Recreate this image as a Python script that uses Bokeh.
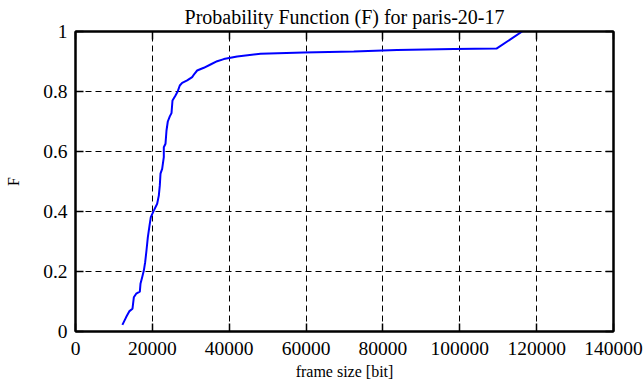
from bokeh.plotting import figure
from bokeh.models import LinearAxis, FixedTicker, NumeralTickFormatter, Range1d
from bokeh.embed import file_html
from bokeh.resources import INLINE

frame_size = [12200, 13190, 14050, 14830, 15180, 15790, 16740, 16910, 17350, 17780,
              18130, 18470, 18820, 19260, 19600, 20380, 21250, 21680, 21940, 22120,
              22550, 22980, 22980, 23420, 23680, 24020, 24540, 24980, 25240, 26020,
              26620, 27140, 27760, 29060, 30360, 30960, 31660, 33390, 35130, 36870,
              38590, 42070, 48140, 59400, 72420, 83700, 98440, 109550, 116230]
prob_F = [0.022, 0.048, 0.068, 0.076, 0.114, 0.126, 0.133, 0.159, 0.181, 0.203,
          0.231, 0.270, 0.314, 0.353, 0.381, 0.403, 0.426, 0.453, 0.487, 0.526,
          0.542, 0.581, 0.614, 0.626, 0.670, 0.700, 0.717, 0.728, 0.770, 0.787,
          0.801, 0.820, 0.829, 0.837, 0.848, 0.859, 0.870, 0.879, 0.890, 0.901,
          0.908, 0.917, 0.926, 0.930, 0.933, 0.938, 0.942, 0.943, 1.000]
x_ticks = [0, 20000, 40000, 60000, 80000, 100000, 120000, 140000]
y_ticks = [0, 0.2, 0.4, 0.6, 0.8, 1]
title_text = "Probability Function (F) for paris-20-17"
x_label = "frame size [bit]"
y_label = "F"

FONT = "Liberation Serif"

p = figure(width=644, height=387, output_backend="svg", toolbar_location=None,
           x_range=Range1d(0, 140000), y_range=Range1d(0, 1),
           min_border_left=75, min_border_right=31, min_border_top=31, min_border_bottom=56,
           title=title_text)
p.background_fill_color = "white"
p.border_fill_color = "white"
p.outline_line_color = "black"
p.outline_line_width = 2
p.outline_line_alpha = 1

p.title.text_font = FONT
p.title.text_font_size = "20px"
p.title.text_font_style = "normal"
p.title.text_color = "black"
p.title.align = "center"
p.title.offset = -3
p.title.standoff = 7

p.line(frame_size, prob_F, line_color="#0000ff", line_width=2)

for ax in p.xaxis:
    ax.ticker = FixedTicker(ticks=x_ticks)
    ax.formatter = NumeralTickFormatter(format="0")
    ax.axis_label = x_label
    ax.axis_label_standoff = 5
    ax.major_label_standoff = 10
for ax in p.yaxis:
    ax.ticker = FixedTicker(ticks=y_ticks)
    ax.formatter = NumeralTickFormatter(format="0.[0]")
    ax.axis_label = y_label
    ax.axis_label_standoff = 18
    ax.major_label_standoff = 8

for ax in list(p.xaxis) + list(p.yaxis):
    ax.major_tick_in = 8
    ax.major_tick_out = 0
    ax.minor_tick_in = 0
    ax.minor_tick_out = 0
    ax.major_tick_line_color = "black"
    ax.major_tick_line_width = 1.5
    ax.axis_line_color = "black"
    ax.axis_line_width = 2
    ax.major_label_text_font = FONT
    ax.major_label_text_font_size = "19.5px"
    ax.major_label_text_color = "black"
    ax.axis_label_text_font = FONT
    ax.axis_label_text_font_size = "16px"
    ax.axis_label_text_font_style = "normal"
    ax.axis_label_text_color = "black"

# mirrored tick axes (top, right) without labels
for loc, ticks in (("above", x_ticks), ("right", y_ticks)):
    ax = LinearAxis(ticker=FixedTicker(ticks=ticks), major_label_text_font_size="1px",
                    major_label_text_color=None, major_label_standoff=0,
                    major_tick_in=8, major_tick_out=0, minor_tick_in=0, minor_tick_out=0,
                    axis_line_width=2, major_tick_line_width=1.5)
    p.add_layout(ax, loc)

for g in (p.xgrid[0], p.ygrid[0]):
    g.grid_line_color = "black"
    g.grid_line_dash = "6 4"
    g.grid_line_width = 1
    g.grid_line_alpha = 1
p.xgrid[0].ticker = FixedTicker(ticks=x_ticks)
p.ygrid[0].ticker = FixedTicker(ticks=y_ticks)

open("out.html", "w").write(file_html(p, INLINE))
